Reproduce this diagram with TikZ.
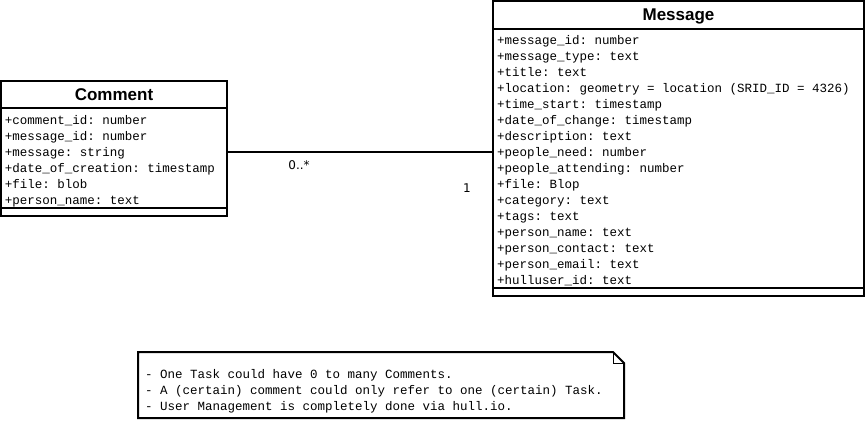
\documentclass[tikz,border=0pt]{standalone}
\usepackage{fontspec}
\setmainfont{Liberation Sans}
\newfontfamily\umlmono{Liberation Mono}
\newfontfamily\umllabel{DejaVu Sans}
\usepackage{tikz}
\usetikzlibrary{positioning, calc}
\tikzset{
    classtitle/.style={draw, line width=2pt, outer sep=0pt, inner sep=0pt, anchor=north west,
        font=\bfseries\fontsize{17}{20}\selectfont, text depth=0pt},
    monotext/.style={align=left, font=\umlmono\fontsize{12.5}{16}\selectfont,
        execute at begin node={\frenchspacing\spaceskip=0pt\xspaceskip=0pt\relax}},
    classattr/.style={monotext, draw, line width=2pt, outer sep=0pt, inner xsep=4pt, inner ysep=0pt,
        text height=12pt},
    classfoot/.style={draw, line width=2pt, outer sep=0pt, inner sep=0pt, minimum height=8pt},
    multlabel/.style={font=\umllabel\fontsize{12}{14}\selectfont, inner sep=0pt},
    notebox/.style={monotext, outer sep=0pt, inner xsep=7pt, inner ysep=0pt, anchor=north west}
}

\begin{document}
\begin{tikzpicture}[x=1pt, y=-1pt]
    \useasboundingbox (0,0) rectangle (867,421);

    % Nodes
    \node (comtitle) at (1,81) [classtitle, minimum width=226pt, minimum height=27pt] {Comment};
    \node (comattr) [classattr, below=0pt of comtitle, text width=218pt, minimum height=100pt, text depth=80pt]
        {+comment\_id: number\\+message\_id: number\\+message: string\\+date\_of\_creation: timestamp\\+file: blob\\+person\_name: text};
    \node (comfoot) [classfoot, below=0pt of comattr, minimum width=226pt] {};

    \node (msgtitle) at (493,1) [classtitle, minimum width=371pt, minimum height=28pt] {Message};
    \node (msgattr) [classattr, below=0pt of msgtitle, text width=363pt, minimum height=259pt, text depth=241pt]
        {+message\_id: number\\+message\_type: text\\+title: text\\+location: geometry = location (SRID\_ID = 4326)\\+time\_start: timestamp\\+date\_of\_change: timestamp\\+description: text\\+people\_need: number\\+people\_attending: number\\+file: Blop\\+category: text\\+tags: text\\+person\_name: text\\+person\_contact: text\\+person\_email: text\\+hulluser\_id: text};
    \node (msgfoot) [classfoot, below=0pt of msgattr, minimum width=371pt] {};

    \node (multcom) at (299,165) [multlabel] {0..*};
    \node (multmsg) at (467,188) [multlabel] {1};

    \node (note) at (138,352) [notebox, minimum width=486pt, minimum height=66pt, text width=472pt, text height=20pt, text depth=34pt]
        {- One Task could have 0 to many Comments.\\- A (certain) comment could only refer to one (certain) Task.\\- User Management is completely done via hull.io.};

    % Edges
    \draw[line width=2pt] (comattr.east) ++(0,-6.5) coordinate (assocstart) -- (assocstart -| msgattr.west);

    \draw[line width=2pt] (note.north west) -- ([xshift=-11pt]note.north east) -- ([yshift=-11pt]note.north east)
        -- (note.south east) -- (note.south west) -- cycle;
    \draw[line width=0.8pt] ([xshift=-11pt]note.north east) |- ([yshift=-11pt]note.north east);

\end{tikzpicture}
\end{document}
